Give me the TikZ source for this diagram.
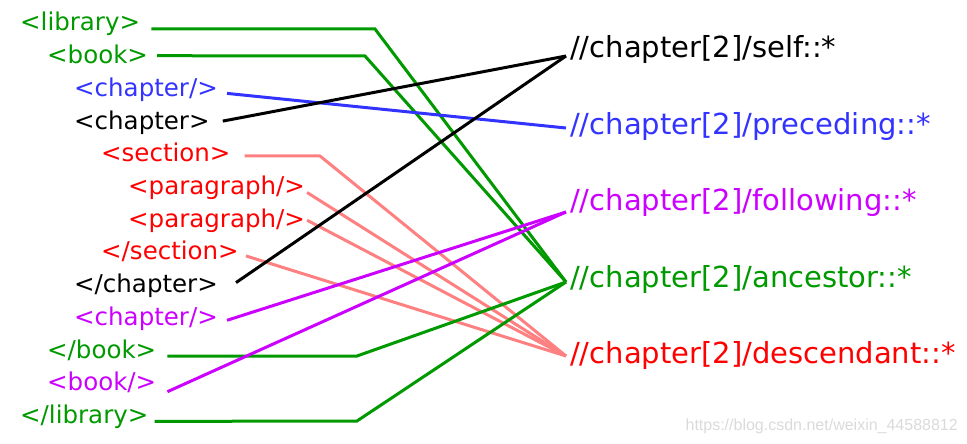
\documentclass[tikz,border=0pt]{standalone}
\usepackage{fontspec}
\setmainfont{DejaVu Sans}
\newfontfamily\wmfont{Liberation Sans}
\usetikzlibrary{calc}
\definecolor{cgreen}{HTML}{009900}
\definecolor{cblue}{HTML}{3333FF}
\definecolor{cmag}{HTML}{CC00FF}
\definecolor{cred}{HTML}{FF0000}
\definecolor{cpink}{HTML}{FF8080}
\definecolor{cwm}{HTML}{DADADA}
\tikzset{
  lt/.style={anchor=base west, inner sep=0pt, font=\fontsize{24.5}{26}\selectfont},
  rt/.style={anchor=base west, inner sep=0pt, font=\fontsize{29}{31}\selectfont},
  ln/.style={line width=3pt},
}
\begin{document}
\begin{tikzpicture}[x=1pt,y=-1pt]
\useasboundingbox (0,0) rectangle (967,444);
% left column
\node[lt, text=cgreen] (lib)  at (20,31)    {<library>};
\node[lt, text=cgreen] (bk)   at (47,63.7)  {<book>};
\node[lt, text=cblue]  (chA)  at (74,96.4)  {<chapter/>};
\node[lt, text=black]  (chB)  at (74,129.1) {<chapter>};
\node[lt, text=cred]   (sec)  at (101,161.8){<section>};
\node[lt, text=cred]   (parA) at (128,194.5){<paragraph/>};
\node[lt, text=cred]   (parB) at (128,227.2){<paragraph/>};
\node[lt, text=cred]   (secE) at (101,259.9){</section>};
\node[lt, text=black]  (chE)  at (74,292.6) {</chapter>};
\node[lt, text=cmag]   (chC)  at (74,325.3) {<chapter/>};
\node[lt, text=cgreen] (bkE)  at (47,358)   {</book>};
\node[lt, text=cmag]   (bkB)  at (47,390.7) {<book/>};
\node[lt, text=cgreen] (libE) at (20,423.4) {</library>};
% right column
\node[rt, text=black]  (self) at (570,58)  {//chapter[2]/self::*};
\node[rt, text=cblue]  (prec) at (570,135) {//chapter[2]/preceding::*};
\node[rt, text=cmag]   (foll) at (570,210) {//chapter[2]/following::*};
\node[rt, text=cgreen] (anc)  at (570,287) {//chapter[2]/ancestor::*};
\node[rt, text=cred]   (desc) at (570,363) {//chapter[2]/descendant::*};
% watermark
\node[anchor=base east, inner sep=0pt, text=cwm, font=\wmfont\fontsize{16}{18}\selectfont] (wm) at (958,430) {https://blog.csdn.net/weixin\_44588812};
% end points on the right
\coordinate (pSelf) at ([xshift=-4pt,yshift=2pt]self.base west);
\coordinate (pPrec) at ([xshift=-4pt,yshift=7pt]prec.base west);
\coordinate (pFoll) at ([xshift=-4pt,yshift=-2pt]foll.base west);
\coordinate (pAnc)  at ([xshift=-4pt,yshift=5pt]anc.base west);
\coordinate (pDesc) at ([xshift=-4pt,yshift=7pt]desc.base west);
% connectors
\draw[ln, cgreen] ([xshift=11pt,yshift=2pt]lib.base east) -- (375,29) -- (pAnc);
\draw[ln, cgreen] ([xshift=9pt,yshift=8pt]bk.base east) -- (365,56) -- (pAnc);
\draw[ln, cblue]  ([xshift=9pt,yshift=3pt]chA.base east) -- (pPrec);
\draw[ln, black]  ([xshift=13pt,yshift=8pt]chB.base east) -- (pSelf);
\draw[ln, cpink]  ([xshift=14pt,yshift=6pt]sec.base east) -- (320,156) -- (pDesc);
\draw[ln, cpink]  ([xshift=2pt,yshift=2pt]parA.base east) -- (pDesc);
\draw[ln, cpink]  ([xshift=2pt,yshift=7pt]parB.base east) -- (pDesc);
\draw[ln, cpink]  ([xshift=7pt,yshift=4pt]secE.base east) -- (pDesc);
\draw[ln, black]  ([xshift=18pt,yshift=10pt]chE.base east) -- (pSelf);
\draw[ln, cmag]   ([xshift=9pt,yshift=5pt]chC.base east) -- (pFoll);
\draw[ln, cgreen] ([xshift=11pt,yshift=2pt]bkE.base east) -- (357,356) -- (pAnc);
\draw[ln, cmag]   ([xshift=11pt,yshift=-1pt]bkB.base east) -- (pFoll);
\draw[ln, cgreen] ([xshift=6pt,yshift=2pt]libE.base east) -- (357,421) -- (pAnc);
\end{tikzpicture}
\end{document}
